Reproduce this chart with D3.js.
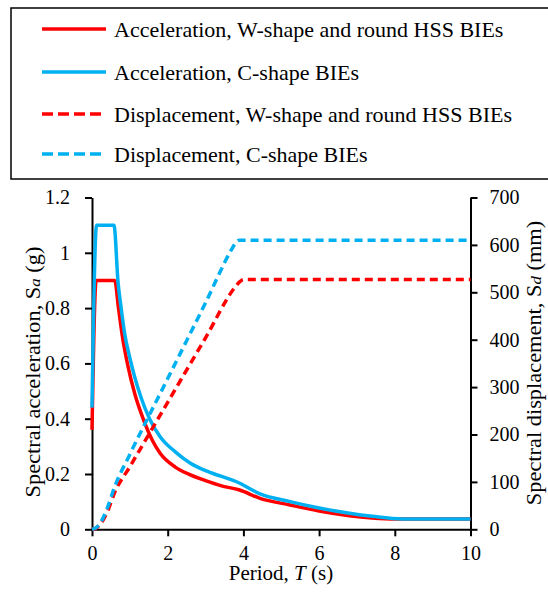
<!DOCTYPE html>
<html lang="en">
<head>
<meta charset="utf-8">
<title>Spectra</title>
<script src="https://d3js.org/d3.v7.min.js"></script>
<style>
  body { margin: 0; background: #fff; }
  svg text { font-family: 'Liberation Serif', 'Times New Roman', serif; fill: #000; }
  .axis path, .axis line { stroke: #000; stroke-width: 2; }
  .axis text { font-size: 20px; }
</style>
</head>
<body>
<svg width="548" height="593"></svg>
<script>
// values
var periodAccRed = [0, 0.11, 0.6, 0.7, 0.8, 0.95, 1.13, 1.35, 1.6, 1.8, 2.2, 2.6, 3.0, 3.4, 3.9, 4.44, 5.23, 6.0, 6.8, 7.4, 8.0, 10];
var accRed       = [0.36, 0.9, 0.9, 0.8, 0.70, 0.59, 0.49, 0.40, 0.32, 0.275, 0.225, 0.197, 0.176, 0.158, 0.142, 0.112, 0.088, 0.066, 0.049, 0.041, 0.037, 0.037];

var periodAccBlue = [0, 0.12, 0.58, 0.69, 0.77, 0.86, 1.0, 1.13, 1.3, 1.52, 1.8, 2.2, 2.6, 3.0, 3.4, 3.82, 4.44, 5.23, 6.0, 6.8, 7.4, 8.2, 10];
var accBlue       = [0.44, 1.1, 1.1, 0.89, 0.8, 0.71, 0.62, 0.55, 0.475, 0.40, 0.335, 0.28, 0.239, 0.212, 0.192, 0.172, 0.128, 0.10, 0.077, 0.058, 0.047, 0.037, 0.037];

var periodDispRed = [0, 0.1, 0.2, 0.4, 0.6, 1, 2, 3, 3.8, 3.9, 4, 10];
var dispRed       = [0, 2, 9, 36, 78, 132, 268, 404, 513, 522, 527, 527];

var periodDispBlue = [0, 0.1, 0.2, 0.4, 0.6, 1, 2, 3, 3.7, 3.8, 3.9, 10];
var dispBlue       = [0, 3, 11, 44, 90, 158, 318, 478, 592, 605, 610, 610];

var periodTicks = [0, 2, 4, 6, 8, 10];
var accTicks = [0, 0.2, 0.4, 0.6, 0.8, 1, 1.2];
var dispTicks = [0, 100, 200, 300, 400, 500, 600, 700];

var legendNames = ['Acceleration, W-shape and round HSS BIEs', 'Acceleration, C-shape BIEs',
                   'Displacement, W-shape and round HSS BIEs', 'Displacement, C-shape BIEs'];

var red = '#ff0000', blue = '#00b0f0';

var svg = d3.select('svg');

var x = d3.scaleLinear().domain([0, 10]).range([92, 470.5]);
var yA = d3.scaleLinear().domain([0, 1.2]).range([529.3, 197.5]);
var yD = d3.scaleLinear().domain([0, 700]).range([529.3, 197.5]);

function pairs(ts, vs) { return ts.map(function(t, i) { return [t, vs[i]]; }); }

var series = [
  {data: pairs(periodAccRed, accRed), y: yA, color: red, dash: null},
  {data: pairs(periodAccBlue, accBlue), y: yA, color: blue, dash: null},
  {data: pairs(periodDispRed, dispRed), y: yD, color: red, dash: '8,5'},
  {data: pairs(periodDispBlue, dispBlue), y: yD, color: blue, dash: '8,5'}
];

// axes
svg.append('g').attr('class', 'axis')
  .attr('transform', 'translate(0,529.3)')
  .call(d3.axisBottom(x).tickValues(periodTicks).tickSize(7).tickSizeOuter(0).tickPadding(10));

svg.append('g').attr('class', 'axis')
  .attr('transform', 'translate(92,0)')
  .call(d3.axisLeft(yA).tickValues(accTicks).tickFormat(d3.format('~g')).tickSize(7).tickSizeOuter(0).tickPadding(15));

svg.append('g').attr('class', 'axis')
  .attr('transform', 'translate(470.5,0)')
  .call(d3.axisRight(yD).tickValues(dispTicks).tickSize(7).tickSizeOuter(0).tickPadding(12));

// curves
series.forEach(function(s) {
  var line = d3.line()
    .x(function(d) { return x(d[0]); })
    .y(function(d) { return s.y(d[1]); })
    .curve(d3.curveMonotoneX);
  svg.append('path')
    .datum(s.data)
    .attr('d', line)
    .attr('fill', 'none')
    .attr('stroke', s.color)
    .attr('stroke-width', 3.5)
    .attr('stroke-dasharray', s.dash)
    .attr('stroke-linejoin', 'round');
});

// axis titles
var xt = svg.append('text').attr('x', 281).attr('y', 580)
  .attr('text-anchor', 'middle').style('font-size', '21px');
xt.append('tspan').text('Period, ');
xt.append('tspan').style('font-style', 'italic').text('T');
xt.append('tspan').text(' (s)');

// the rotated titles are a little stretched along their length in the picture
var yl = svg.append('text')
  .attr('transform', 'translate(40,372) rotate(-90) scale(1.12,1)')
  .attr('text-anchor', 'middle').style('font-size', '20px');
yl.append('tspan').text('Spectral acceleration, S');
yl.append('tspan').style('font-style', 'italic').style('font-size', '15px').text('a');
yl.append('tspan').text(' (g)');

var yr = svg.append('text')
  .attr('transform', 'translate(541,363) rotate(-90) scale(1.12,1)')
  .attr('text-anchor', 'middle').style('font-size', '20px');
yr.append('tspan').text('Spectral displacement, S');
yr.append('tspan').style('font-style', 'italic').style('font-size', '15px').text('d');
yr.append('tspan').text(' (mm)');

// legend
svg.append('rect')
  .attr('x', 11).attr('y', 8).attr('width', 560).attr('height', 171)
  .attr('fill', 'none').attr('stroke', '#000').attr('stroke-width', 1.5);

var rowY = [29, 72, 114, 154];
series.forEach(function(s, i) {
  svg.append('line')
    .attr('x1', 42).attr('x2', 106).attr('y1', rowY[i]).attr('y2', rowY[i])
    .attr('stroke', s.color).attr('stroke-width', 3.5)
    .attr('stroke-dasharray', s.dash ? '11,5' : null);
  svg.append('text')
    .attr('x', 114).attr('y', rowY[i] + 7.5)
    .style('font-size', '22px')
    .text(legendNames[i]);
});
</script>
</body>
</html>
